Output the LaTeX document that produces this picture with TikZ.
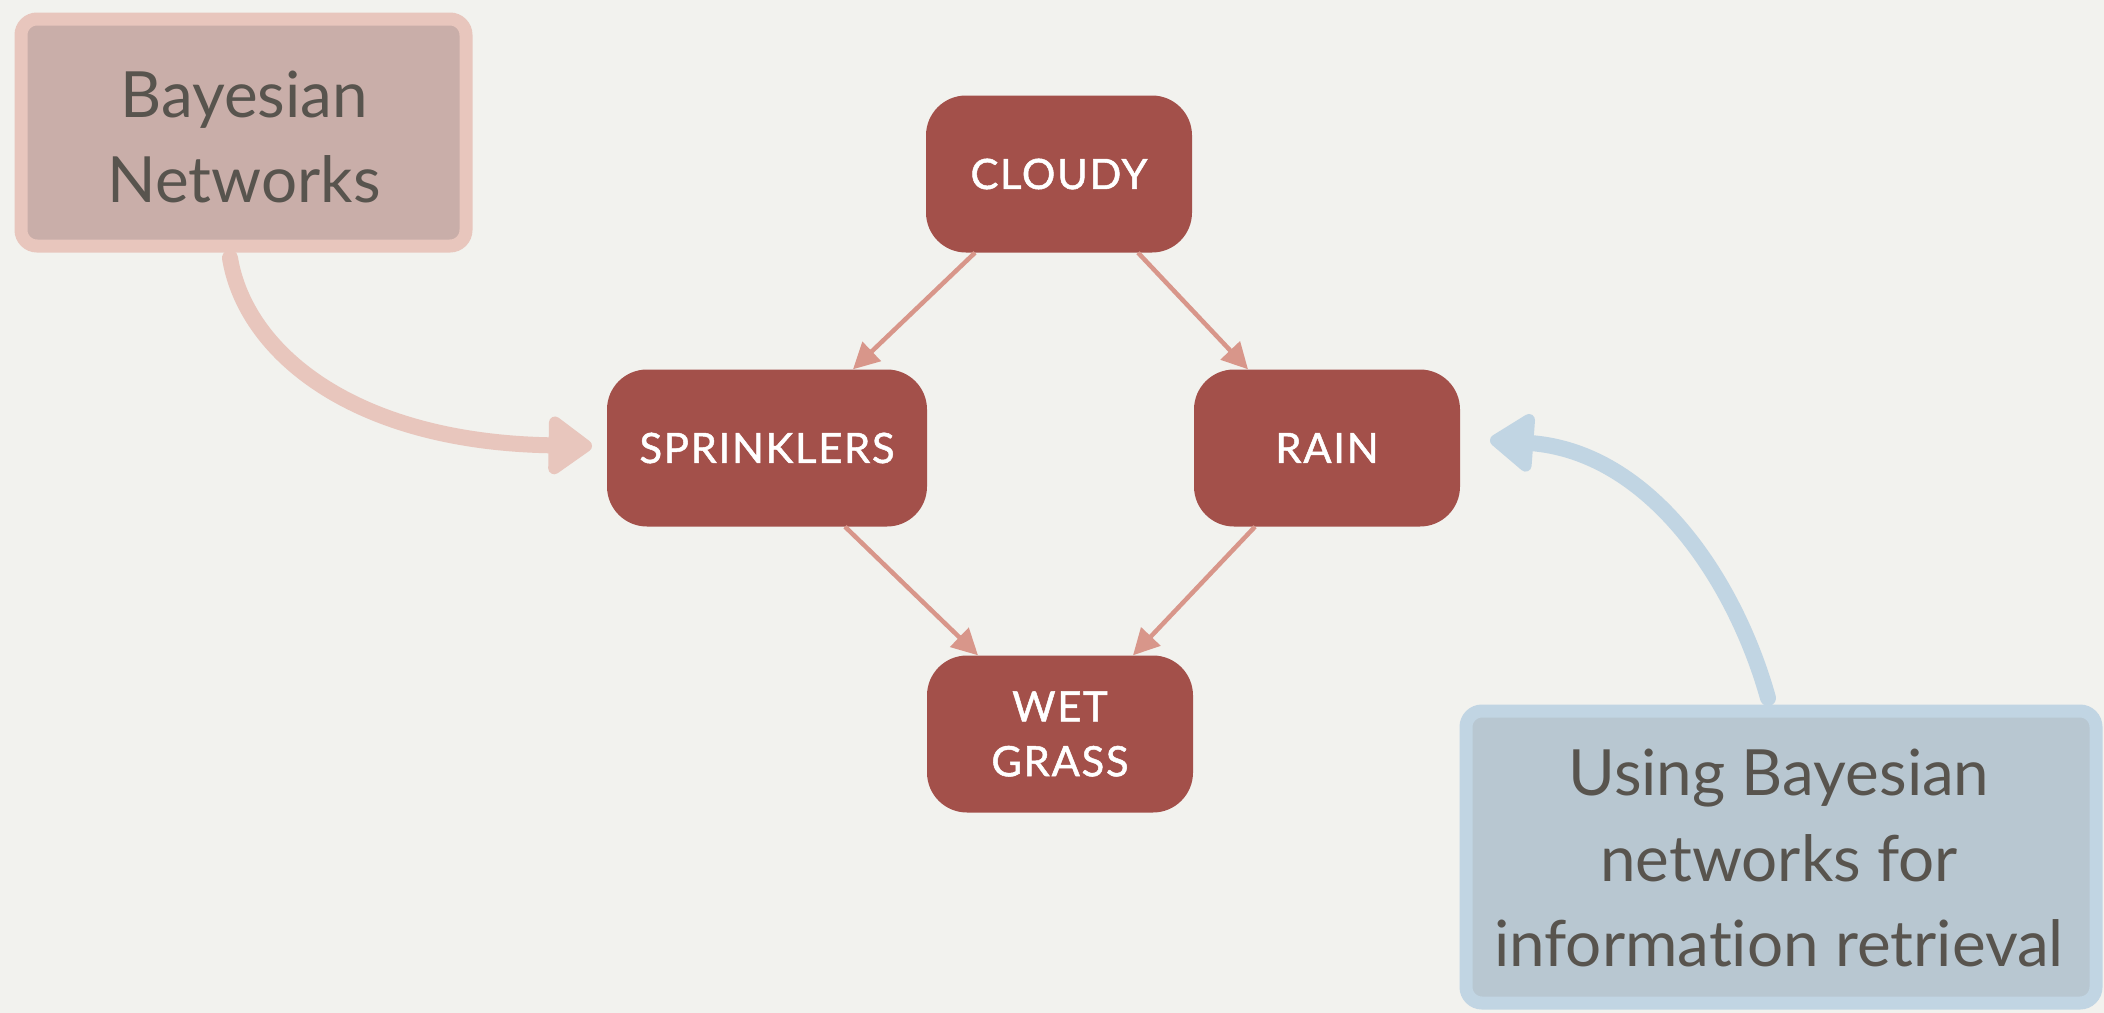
\documentclass[tikz,border=0pt]{standalone}
\usepackage{fontspec}
\setmainfont{Lato}[Ligatures={NoCommon}]
\newfontfamily\capsfont[LetterSpace=4,FakeBold=1.2]{Lato}
\usetikzlibrary{arrows.meta,calc}
\definecolor{paper}{RGB}{242,242,238}
\definecolor{nodered}{RGB}{163,80,74}
\definecolor{edgepink}{RGB}{216,150,138}
\definecolor{notepink}{RGB}{232,198,189}
\definecolor{notepinkfill}{RGB}{201,174,169}
\definecolor{noteblue}{RGB}{193,213,227}
\definecolor{notebluefill}{RGB}{184,199,209}
\definecolor{notetext}{RGB}{88,84,78}
\tikzset{
  varbox/.style={draw=none, fill=nodered, rounded corners=40bp, minimum height=157bp,
    text=white, align=center, font=\capsfont\fontsize{42}{55}\selectfont, inner sep=0pt},
  link/.style={draw=edgepink, line width=4.5bp, -{Triangle[length=26bp,width=26bp]}},
  notetxt/.style={text=notetext, align=center, font=\fontsize{64}{86}\selectfont, inner sep=0pt},
  pinkarrow/.style={draw=notepink, line width=16bp, line cap=round,
    -{Triangle[length=48bp,width=66bp,round]}},
  bluearrow/.style={draw=noteblue, line width=16bp, line cap=round,
    -{Triangle[length=48bp,width=66bp,round]}}
}
\begin{document}
\begin{tikzpicture}[x=1bp,y=-1bp]
  % paper background fixes the bounding box
  \fill[paper] (0,0) rectangle (2104,1013);
  \useasboundingbox (0,0) rectangle (2104,1013);

  % note boxes
  \draw[notepink, fill=notepinkfill, line width=13bp, rounded corners=16bp]
    (21,19) rectangle (466,246);
  \node[notetxt] (bn) at (244,137) {Bayesian\\Networks};
  \draw[noteblue, fill=notebluefill, line width=13bp, rounded corners=16bp]
    (1466,711) rectangle (2096,1003);
  \node[notetxt] (ub) at (1779,858) {Using Bayesian\\networks for\\information retrieval};

  % variable nodes
  \node[varbox, minimum width=266bp] (cloudy) at (1059,174) {CLOUDY};
  \node[varbox, minimum width=320bp] (spr) at (767,448) {SPRINKLERS};
  \node[varbox, minimum width=266bp] (rain) at (1327,448) {RAIN};
  \node[varbox, minimum width=266bp] (wet) at (1060,734) {WET\\GRASS};

  % dependencies
  \draw[link] ([xshift=-84bp]cloudy.south) -- ([xshift=86bp]spr.north);
  \draw[link] ([xshift=79bp]cloudy.south) -- ([xshift=-79bp]rain.north);
  \draw[link] ([xshift=78bp]spr.south) -- ([xshift=-82bp]wet.north);
  \draw[link] ([xshift=-72bp]rain.south) -- ([xshift=73bp]wet.north);

  % annotation arrows
  \coordinate (pinkstart) at (230,258);
  \coordinate (pinkend) at (592,446);
  \draw[pinkarrow] (pinkstart) .. controls (245,350) and (350,442) .. (pinkend);
  \coordinate (bluestart) at (1768,698);
  \coordinate (blueend) at (1490,440);
  \draw[bluearrow] (bluestart) .. controls (1735,580) and (1650,452) .. (blueend);
\end{tikzpicture}
\end{document}
